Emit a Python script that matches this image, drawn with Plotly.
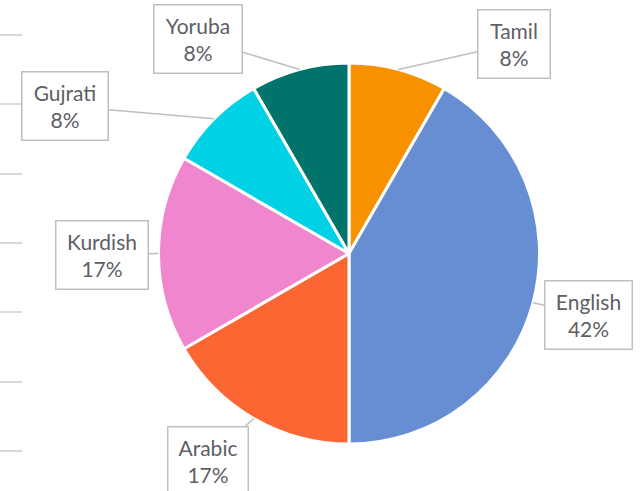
import math
import plotly.graph_objects as go

# ---- data ----
languages = ["Tamil", "English", "Arabic", "Kurdish", "Gujrati", "Yoruba"]
counts = [1, 5, 2, 2, 1, 1]
colors = ["#F79100", "#678DD2", "#FC6633", "#EF86CE", "#00D1E4", "#00736A"]

# ---- layout (pixels) ----
W, H = 641, 491
CX, CY, R = 349, 253.5, 190.5
# label box centres and sizes in pixels
box_centers = [(513.5, 43.5), (588, 315), (208, 460.5), (101.5, 254.5), (65, 106), (197.5, 38.5)]
box_sizes = [(71, 67), (86, 67), (79, 67), (91, 67), (85, 67), (87, 67)]
stub_y = [35, 104, 174, 243, 312, 382, 451]

FONT = "Lato"
TXT = "#5E5E66"
GRID = "#D9D9D9"
BORDER = "#BFBFBF"

fig = go.Figure(go.Pie(
    labels=languages, values=counts, sort=False, direction="clockwise", rotation=0,
    marker=dict(colors=colors, line=dict(color="white", width=3)),
    textinfo="none", hoverinfo="label+percent",
    domain=dict(x=[(CX - R) / W, (CX + R) / W], y=[1 - (CY + R) / H, 1 - (CY - R) / H]),
    showlegend=False,
))

total = sum(counts)
cum = 0
annotations = []
for lab, v, (bx, by), (bw, bh) in zip(languages, counts, box_centers, box_sizes):
    mid = (cum + v / 2) / total * 2 * math.pi
    cum += v
    tx = CX + R * math.sin(mid)
    ty = CY - R * math.cos(mid)
    pct = round(v / total * 100)
    annotations.append(dict(
        text=f"{lab}<br>{pct}%", xref="paper", yref="paper",
        x=tx / W, y=1 - ty / H, ax=bx - tx, ay=by - ty,
        showarrow=True, arrowhead=0, arrowwidth=1.5, arrowcolor=BORDER,
        bordercolor=BORDER, borderwidth=1.5, borderpad=0, bgcolor="white",
        width=bw, height=bh, align="center", valign="middle",
        font=dict(family=FONT, size=21, color=TXT),
    ))

shapes = [dict(type="line", xref="paper", yref="paper", x0=0, x1=22 / W,
               y0=1 - y / H, y1=1 - y / H, line=dict(color=GRID, width=2))
          for y in stub_y]

fig.update_layout(
    width=W, height=H, margin=dict(l=0, r=0, t=0, b=0),
    paper_bgcolor="white", plot_bgcolor="white",
    annotations=annotations, shapes=shapes,
)
fig.write_html("out.html", config={"displayModeBar": False},
               post_script="document.body.style.margin='0';document.body.style.overflow='hidden';")
